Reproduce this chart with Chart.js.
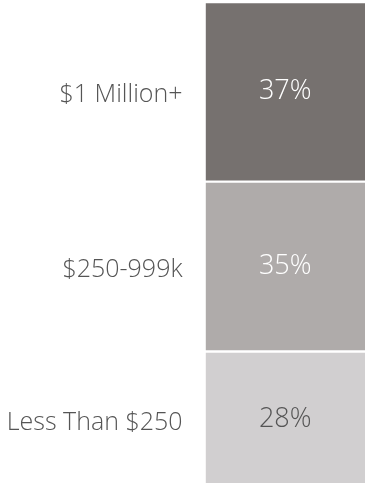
<!DOCTYPE html>
<html>
<head>
<meta charset="utf-8">
<script src="https://cdn.jsdelivr.net/npm/chart.js@4"></script>
<style>
  html, body { margin: 0; padding: 0; background: #fff; overflow: hidden; }
  #wrap { position: relative; width: 367px; height: 510px; }
</style>
</head>
<body>
<div id="wrap"><canvas id="chart"></canvas></div>
<script>
// net worth bands, top of the column first
const bands = ['$1 Million+', '$250-999k', 'Less Than $250'];
const shares = [37, 35, 28];
const fills = ['#76716f', '#afabaa', '#d1cfd0'];
const valueColors = ['#ffffff', '#ffffff', '#555555'];

const labelFont = '300 25px "Open Sans", sans-serif';
const valueFont = '300 27px "Open Sans", sans-serif';

// writes the share inside each block and the band name to its left
const segmentText = {
    id: 'segmentText',
    afterDatasetsDraw(chart) {
        const { ctx, chartArea } = chart;
        ctx.save();
        ctx.textBaseline = 'middle';
        chart.data.datasets.forEach((ds, i) => {
            const bar = chart.getDatasetMeta(i).data[0];
            const { x, y, base } = bar.getProps(['x', 'y', 'base'], true);
            const cy = (y + base) / 2;

            ctx.font = valueFont;
            ctx.textAlign = 'center';
            ctx.fillStyle = valueColors[i];
            ctx.fillText(shares[i] + '%', x, cy);

            ctx.font = labelFont;
            ctx.textAlign = 'right';
            ctx.fillStyle = '#555555';
            ctx.fillText(bands[i], chartArea.left - 23, cy + 3);
        });
        ctx.restore();
    }
};

new Chart(document.getElementById('chart'), {
    type: 'bar',
    data: {
        labels: [''],
        datasets: bands.map((b, i) => ({
            label: b,
            data: [shares[i]],
            backgroundColor: fills[i],
            borderColor: '#ffffff',
            borderWidth: { top: 1.5, bottom: i === bands.length - 1 ? 0 : 1.5, left: 0, right: 0 },
            borderSkipped: false,
            barPercentage: 1,
            categoryPercentage: 1
        }))
    },
    options: {
        responsive: true,
        maintainAspectRatio: false,
        animation: false,
        layout: { padding: { left: 205.5, right: 2, top: 2, bottom: 22.6 } },
        plugins: { legend: { display: false }, tooltip: { enabled: false } },
        scales: {
            x: { stacked: true, display: false },
            y: { stacked: true, display: false, reverse: true, min: 0, max: 100 }
        }
    },
    plugins: [segmentText]
});
</script>
</body>
</html>
